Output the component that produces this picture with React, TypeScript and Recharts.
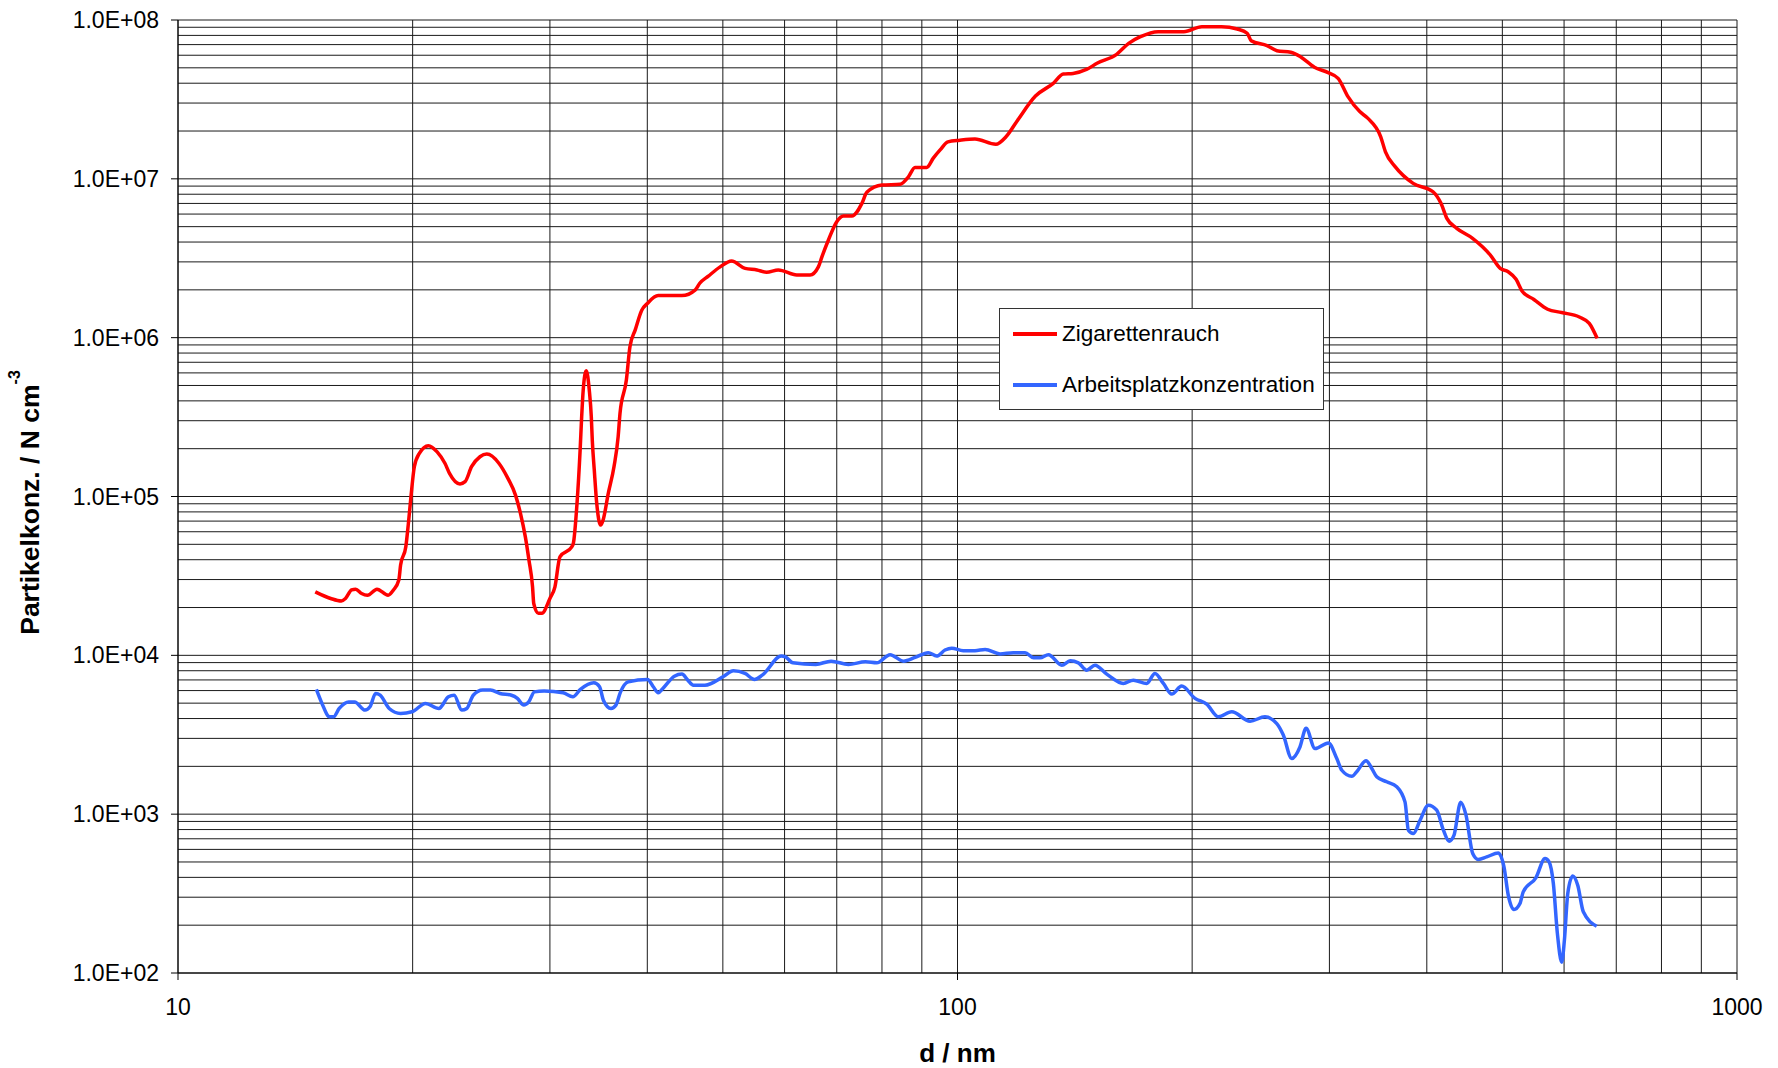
import { Legend, Line, LineChart, ReferenceLine, XAxis, YAxis } from 'recharts';

const FONT = '"Liberation Sans", Arial, Helvetica, sans-serif';

// Zigarettenrauch: particle diameter (nm) and number concentration (N cm^-3)
const SMOKE_D = [
  15.0, 15.7, 16.2, 16.4, 16.7, 16.9, 17.2, 17.5, 18.0, 18.6, 18.9, 19.2, 19.3, 19.6, 19.75, 19.9,
  20.1, 20.4, 20.95, 21.5, 22.0, 22.3, 23.0, 23.35, 23.8, 24.4, 24.9, 25.8, 26.5, 27.1, 27.5, 27.9,
  28.2, 28.5, 28.6, 29.0, 29.3, 30.0, 30.45, 30.9, 32.0, 32.15, 32.5, 32.8, 32.95, 33.1, 33.4, 33.7,
  33.9, 34.0, 34.2, 34.45, 34.85, 35.1, 35.65, 36.25, 36.7, 36.9, 37.6, 38.0, 38.6, 39.35, 40.0, 41.3,
  44.3, 46.1, 46.7, 47.9, 49.6, 51.3, 53.4, 55.3, 56.9, 58.9, 62.2, 64.7, 66.3, 67.0, 68.3, 70.0,
  71.4, 73.2, 75.4, 76.5, 80.0, 84.4, 86.5, 88.2, 91.3, 93.1, 95.0, 97.2, 100.7, 105.3, 112.0, 115.4,
  119.5, 125.9, 132.7, 136.7, 140.7, 146.6, 151.0, 160.0, 165.8, 171.7, 180.9, 195.2, 205.8, 218.1, 228.5, 235.3,
  238.1, 249.5, 256.9, 267.6, 275.4, 287.0, 298.9, 307.8, 316.9, 328.1, 335.9, 349.1, 354.0, 364.5, 384.2, 407.4,
  417.1, 424.4, 437.0, 457.9, 482.6, 496.9, 508.7, 520.7, 529.9, 548.8, 571.5, 595.6, 627.7, 646.4, 661.6,
];
const SMOKE_N = [
  2.51e4, 2.28e4, 2.2e4, 2.28e4, 2.58e4, 2.61e4, 2.45e4, 2.39e4, 2.61e4, 2.39e4, 2.58e4, 2.98e4, 3.7e4, 4.82e4, 6.77e4, 9.96e4,
  1.54e5, 1.87e5, 2.09e5, 1.91e5, 1.62e5, 1.4e5, 1.2e5, 1.24e5, 1.54e5, 1.78e5, 1.85e5, 1.62e5, 1.3e5, 1.02e5, 7.83e4, 5.57e4,
  3.97e4, 2.7e4, 2.12e4, 1.84e4, 1.84e4, 2.28e4, 2.7e4, 4.17e4, 4.82e4, 5.07e4, 9.05e4, 1.96e5, 3.18e5, 4.68e5, 6.19e5, 4.68e5,
  3.18e5, 2.26e5, 1.47e5, 9.05e4, 6.61e4, 7.1e4, 1.05e5, 1.54e5, 2.38e5, 3.34e5, 5.41e5, 8.77e5, 1.12e6, 1.49e6, 1.64e6, 1.84e6,
  1.84e6, 2.0e6, 2.2e6, 2.44e6, 2.79e6, 3.04e6, 2.73e6, 2.67e6, 2.58e6, 2.67e6, 2.48e6, 2.48e6, 2.79e6, 3.23e6, 4.12e6, 5.37e6,
  5.83e6, 5.83e6, 7.01e6, 8.22e6, 9.14e6, 9.23e6, 1.03e7, 1.18e7, 1.18e7, 1.35e7, 1.52e7, 1.71e7, 1.75e7, 1.78e7, 1.65e7, 1.84e7,
  2.35e7, 3.32e7, 3.99e7, 4.57e7, 4.61e7, 4.9e7, 5.34e7, 6.08e7, 7.13e7, 7.85e7, 8.44e7, 8.44e7, 9.08e7, 9.08e7, 8.78e7, 8.25e7,
  7.41e7, 6.89e7, 6.41e7, 6.27e7, 5.87e7, 5.04e7, 4.66e7, 4.29e7, 3.29e7, 2.65e7, 2.41e7, 1.84e7, 1.48e7, 1.19e7, 9.37e6, 8.29e6,
  7.01e6, 5.64e6, 4.88e6, 4.22e6, 3.31e6, 2.73e6, 2.6e6, 2.33e6, 1.97e6, 1.74e6, 1.51e6, 1.44e6, 1.35e6, 1.23e6, 9.9e5,
];

// Arbeitsplatzkonzentration
const WORK_D = [
  15.05, 15.3, 15.65, 15.83, 16.1, 16.56, 16.85, 17.38, 17.63, 17.93, 18.17, 18.66, 19.3, 19.96, 20.77, 21.61,
  22.23, 22.61, 23.12, 23.47, 23.92, 24.6, 25.17, 25.89, 26.78, 27.25, 27.77, 28.18, 28.66, 29.49, 31.2, 32.1,
  32.83, 34.15, 34.74, 35.13, 35.93, 36.46, 36.96, 37.81, 40.03, 40.71, 41.31, 41.88, 43.33, 44.31, 45.08, 45.84,
  47.42, 50.15, 51.58, 53.38, 54.9, 56.17, 59.43, 60.12, 61.47, 65.8, 68.84, 72.44, 76.21, 78.79, 81.95, 85.24,
  88.23, 91.73, 94.04, 96.38, 98.31, 101.7, 105.3, 108.5, 113.4, 117.9, 122.1, 125.2, 127.6, 130.8, 136.1, 139.5,
  142.9, 146.5, 150.1, 155.4, 163.2, 168.1, 174.9, 179.2, 183.7, 188.3, 193.9, 201.7, 208.8, 216.1, 224.8, 237.3,
  248.0, 256.8, 261.8, 268.4, 275.0, 280.0, 287.5, 299.1, 306.6, 311.2, 320.5, 325.2, 334.3, 340.0, 345.0, 355.3,
  366.0, 375.1, 378.8, 384.4, 392.1, 401.8, 411.9, 420.1, 427.2, 433.5, 442.1, 449.1, 458.1, 465.7, 477.4, 494.0,
  502.4, 508.8, 517.4, 526.7, 531.8, 552.3, 567.2, 574.0, 581.3, 588.3, 595.9, 600.6, 606.6, 615.6, 624.7, 635.1,
  660.7,
];
const WORK_N = [
  6100, 4980, 4100, 4100, 4630, 5090, 5090, 4520, 4740, 5750, 5610, 4630, 4310, 4410, 4980, 4630,
  5480, 5610, 4520, 4630, 5610, 6040, 6040, 5750, 5610, 5360, 4860, 5090, 5890, 5970, 5810, 5480,
  6100, 6710, 6340, 5220, 4630, 4860, 5890, 6810, 7050, 6340, 5810, 6190, 7390, 7620, 6980, 6490,
  6490, 7390, 7990, 7690, 7050, 7500, 9890, 9800, 8970, 8770, 9190, 8770, 9100, 8970, 10100, 9190,
  9700, 10400, 9890, 10800, 11100, 10700, 10700, 10900, 10200, 10400, 10400, 9640, 9640, 10100, 8670, 9230,
  8970, 8070, 8670, 7620, 6650, 6980, 6650, 7690, 6650, 5700, 6400, 5360, 4930, 4100, 4410, 3850,
  4100, 3720, 3150, 2240, 2650, 3470, 2590, 2810, 2240, 1890, 1730, 1850, 2170, 1940, 1720, 1600,
  1490, 1190, 793, 755, 916, 1140, 1060, 793, 676, 738, 1190, 986, 566, 519, 538, 570,
  466, 309, 251, 274, 324, 399, 526, 501, 366, 177, 117, 161, 317, 408, 357, 243,
  197,
];

const X_TICKS = [10, 100, 1000];
const Y_TICKS = [1e2, 1e3, 1e4, 1e5, 1e6, 1e7, 1e8];
const Y_TICK_LABELS = ['1.0E+02', '1.0E+03', '1.0E+04', '1.0E+05', '1.0E+06', '1.0E+07', '1.0E+08'];

// log paper: a line at every 1..9 step of each decade, plus the closing decade
function decadeSteps(fromExp: number, toExp: number) {
  const out: number[] = [];
  for (let p = fromExp; p < toExp; p++) {
    for (let k = 1; k <= 9; k++) out.push(k * 10 ** p);
  }
  out.push(10 ** toExp);
  return out;
}
const GRID_X = decadeSteps(1, 3);
const GRID_Y = decadeSteps(2, 8);
const GRID_STROKE = '#1a1a1a';

const SERIES = [
  { name: 'Zigarettenrauch', color: '#ff0000', data: SMOKE_D.map((d, i) => ({ d, n: SMOKE_N[i] })) },
  { name: 'Arbeitsplatzkonzentration', color: '#3366ff', data: WORK_D.map((d, i) => ({ d, n: WORK_N[i] })) },
];

function yTickLabel(v: number) {
  return Y_TICK_LABELS[Math.round(Math.log10(v)) - 2] ?? '';
}

function YTitle(props: any) {
  const vb = props.viewBox ?? { x: 78, y: 20, height: 953 };
  const cx = 39;
  const cy = vb.y + vb.height / 2 + 6;
  return (
    <text
      x={cx}
      y={cy}
      transform={`rotate(-90 ${cx} ${cy})`}
      textAnchor="middle"
      fontFamily={FONT}
      fontWeight="bold"
      fontSize={26.5}
      fill="#000"
    >
      Partikelkonz. / N cm
      <tspan dy={-19} fontSize={16}>-3</tspan>
    </text>
  );
}

function XTitle(props: any) {
  const vb = props.viewBox ?? { x: 178, y: 973, width: 1559 };
  return (
    <text
      x={vb.x + vb.width / 2}
      y={vb.y + 89}
      textAnchor="middle"
      fontFamily={FONT}
      fontWeight="bold"
      fontSize={26}
      fill="#000"
    >
      d / nm
    </text>
  );
}

function LegendBox() {
  return (
    <div
      style={{
        position: 'relative',
        width: 325,
        height: 102,
        boxSizing: 'border-box',
        border: '1px solid #333',
        background: '#fff',
        fontFamily: FONT,
        fontSize: 22.5,
        color: '#000',
      }}
    >
      {SERIES.map((s, i) => (
        <div
          key={s.name}
          style={{
            position: 'absolute',
            left: 13,
            top: i === 0 ? 25 : 76,
            transform: 'translateY(-50%)',
            display: 'flex',
            alignItems: 'center',
            whiteSpace: 'nowrap',
          }}
        >
          <span style={{ display: 'inline-block', width: 44, height: 3.5, background: s.color, marginRight: 5 }} />
          <span>{s.name}</span>
        </div>
      ))}
    </div>
  );
}

export default function App() {
  return (
    <div style={{ position: 'absolute', left: 0, top: 0, width: 1778, height: 1068, overflow: 'hidden', background: '#fff' }}>
      <LineChart width={1778} height={1068} margin={{ top: 20, right: 41, bottom: 35, left: 78 }}>
        <XAxis
          dataKey="d"
          type="number"
          scale="log"
          domain={[10, 1000]}
          allowDataOverflow
          ticks={X_TICKS}
          interval={0}
          height={60}
          tickSize={7}
          tickMargin={19}
          axisLine={{ stroke: '#000' }}
          tickLine={{ stroke: '#000' }}
          tick={{ fill: '#000', fontSize: 23, fontFamily: FONT }}
          label={<XTitle />}
        />
        <YAxis
          type="number"
          scale="log"
          domain={[100, 1e8]}
          allowDataOverflow
          ticks={Y_TICKS}
          interval={0}
          tickFormatter={yTickLabel}
          width={100}
          tickSize={7}
          tickMargin={12}
          axisLine={{ stroke: '#000' }}
          tickLine={{ stroke: '#000' }}
          tick={{ fill: '#000', fontSize: 23, fontFamily: FONT }}
          label={<YTitle />}
        />
        {/* log-paper grid, kept beneath the curves */}
        {GRID_Y.map((v) => (
          <ReferenceLine key={`gy${v}`} y={v} stroke={GRID_STROKE} strokeWidth={1} zIndex={-100} />
        ))}
        {GRID_X.map((v) => (
          <ReferenceLine key={`gx${v}`} x={v} stroke={GRID_STROKE} strokeWidth={1} zIndex={-100} />
        ))}
        <Legend
          layout="vertical"
          align="center"
          verticalAlign="middle"
          wrapperStyle={{ left: 999, top: 308, width: 325, height: 102 }}
          content={() => <LegendBox />}
        />
        {SERIES.map((s) => (
          <Line
            key={s.name}
            name={s.name}
            data={s.data}
            dataKey="n"
            type="monotone"
            stroke={s.color}
            strokeWidth={3.5}
            dot={false}
            activeDot={false}
            isAnimationActive={false}
          />
        ))}
      </LineChart>
    </div>
  );
}
